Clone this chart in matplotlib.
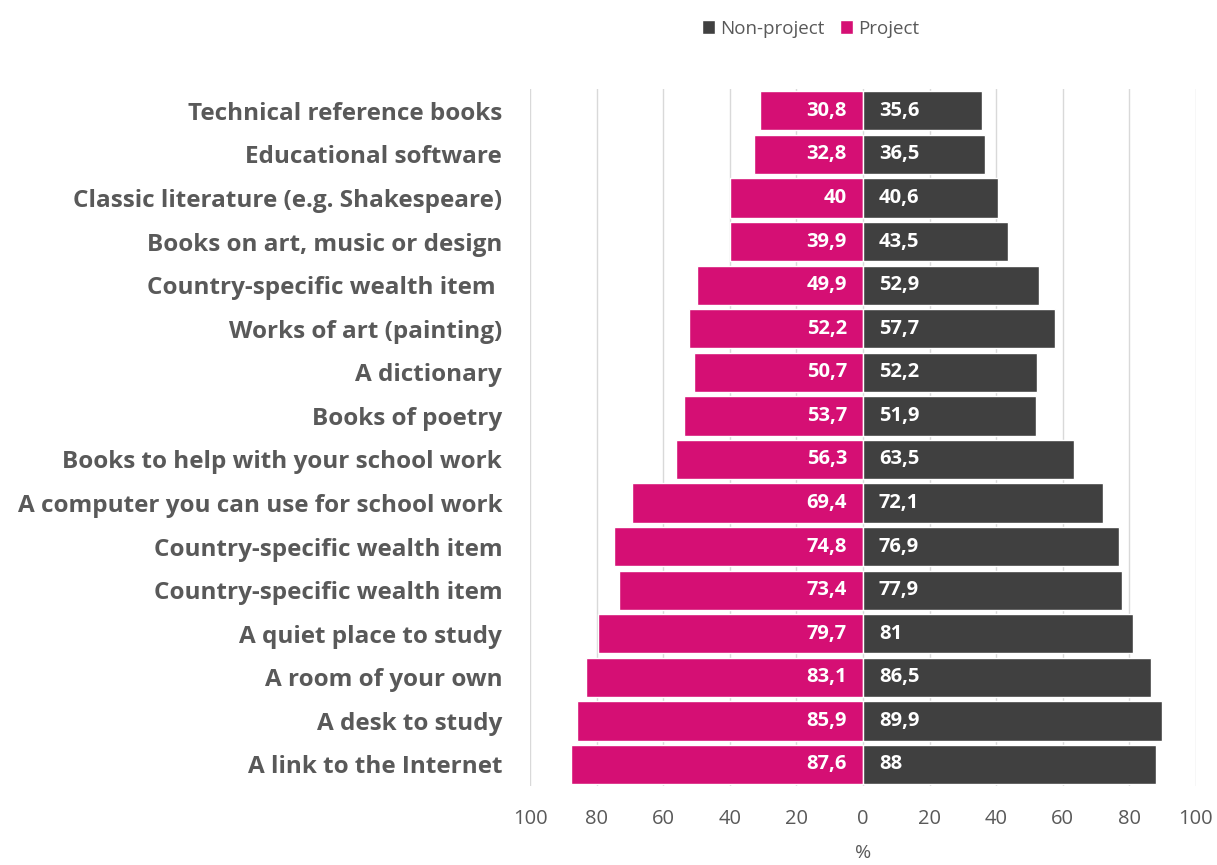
import numpy as np
import matplotlib.pyplot as plt

categories = [
    "Technical reference books",
    "Educational software",
    "Classic literature (e.g. Shakespeare)",
    "Books on art, music or design",
    "Country-specific wealth item ",
    "Works of art (painting)",
    "A dictionary",
    "Books of poetry",
    "Books to help with your school work",
    "A computer you can use for school work",
    "Country-specific wealth item",
    "Country-specific wealth item",
    "A quiet place to study",
    "A room of your own",
    "A desk to study",
    "A link to the Internet",
]
project = [30.8, 32.8, 40, 39.9, 49.9, 52.2, 50.7, 53.7, 56.3, 69.4, 74.8, 73.4, 79.7, 83.1, 85.9, 87.6]
non_project = [35.6, 36.5, 40.6, 43.5, 52.9, 57.7, 52.2, 51.9, 63.5, 72.1, 76.9, 77.9, 81, 86.5, 89.9, 88]
ticks = [-100, -80, -60, -40, -20, 0, 20, 40, 60, 80, 100]

pink = "#D50F74"
dark = "#404040"
grey_text = "#595959"

plt.rcParams['font.family'] = ['Open Sans', 'DejaVu Sans']

fig = plt.figure(figsize=(12.17, 8.65), dpi=100)
ax = fig.add_axes([0.4355, 0.091, 0.5472, 0.806])

y = np.arange(len(categories))
ax.barh(y, [-v for v in project], height=0.9, color=pink, edgecolor="white", linewidth=1, label="Project", zorder=2)
ax.barh(y, non_project, height=0.9, color=dark, edgecolor="white", linewidth=1, label="Non-project", zorder=2)

def fmt(v):
    return "{:g}".format(v).replace(".", ",")

for yi, p, n in zip(y, project, non_project):
    ax.text(-4.8, yi, fmt(p), ha="right", va="center", color="white", fontsize=14.5, fontweight="bold", zorder=3)
    ax.text(4.8, yi, fmt(n), ha="left", va="center", color="white", fontsize=14.5, fontweight="bold", zorder=3)

ax.set_ylim(len(categories) - 0.5, -0.5)
ax.set_xlim(-100, 100)
ax.set_yticks(y)
ax.set_yticklabels(categories, fontsize=17.5, fontweight="bold", color=grey_text)
ax.set_xticks(ticks)
ax.set_xticklabels([str(abs(t)) for t in ticks], fontsize=14.5, color=grey_text)
ax.tick_params(axis="y", length=0, pad=20)
ax.tick_params(axis="x", length=0, pad=16)
ax.grid(axis="x", color="#D9D9D9", linewidth=1, zorder=0)
for s in ax.spines.values():
    s.set_visible(False)
ax.set_xlabel("%", fontsize=14, color=grey_text, labelpad=11)

handles, labels = ax.get_legend_handles_labels()
fig.legend(handles[::-1], labels[::-1], loc="center", bbox_to_anchor=(0.666, 0.967), ncol=2,
           frameon=False, fontsize=13.5, labelcolor=grey_text, handlelength=0.7, handleheight=0.7,
           handletextpad=0.3, columnspacing=0.8)

fig.savefig("out.png", dpi=100)
